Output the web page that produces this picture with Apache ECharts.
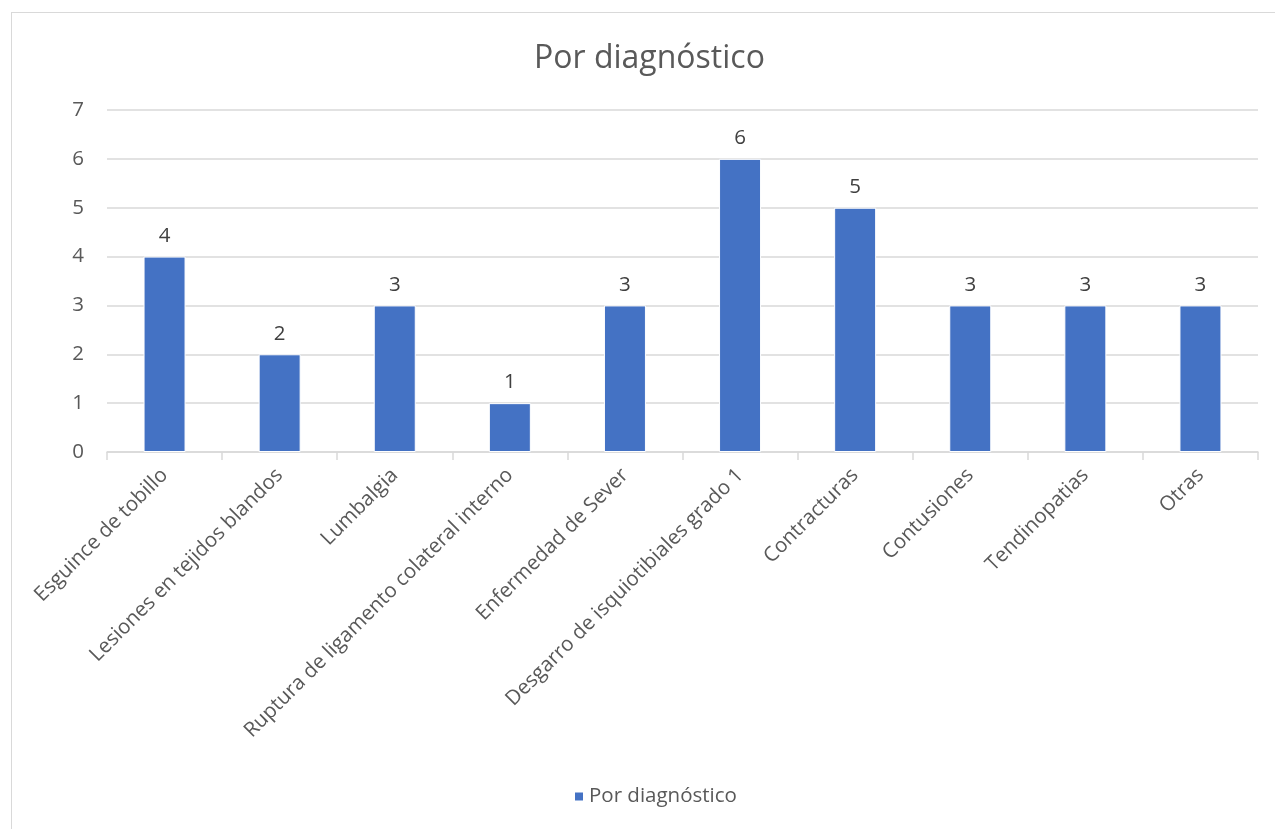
<!DOCTYPE html>
<html>
<head>
<meta charset="utf-8">
<script src="https://cdn.jsdelivr.net/npm/echarts@6/dist/echarts.min.js"></script>
<style>
  html, body { margin: 0; padding: 0; background: #fff; }
  #frame { position: absolute; left: 11px; top: 12px; width: 1300px; height: 900px; border: 1px solid #d9d9d9; }
  #chart { position: absolute; left: 0; top: 0; width: 1275px; height: 829px; }
</style>
</head>
<body>
<div id="frame"></div>
<div id="chart"></div>
<script>
const categories = [
  "Esguince de tobillo",
  "Lesiones en tejidos blandos",
  "Lumbalgia",
  "Ruptura de ligamento colateral interno",
  "Enfermedad de Sever",
  "Desgarro de isquiotibiales grado 1",
  "Contracturas",
  "Contusiones",
  "Tendinopatias",
  "Otras"
];
const values = [4, 2, 3, 1, 3, 6, 5, 3, 3, 3];
const seriesName = "Por diagnóstico";

const chart = echarts.init(document.getElementById("chart"));
const font = "'Open Sans', sans-serif";

chart.setOption({
  animation: false,
  title: {
    text: seriesName,
    left: 529,
    top: 38,
    textStyle: { fontFamily: font, fontSize: 32, fontWeight: "normal", color: "#595959" }
  },
  legend: {
    bottom: 17,
    left: 568,
    itemWidth: 10,
    itemHeight: 10,
    itemGap: 8,
    icon: "rect",
    textStyle: { fontFamily: font, fontSize: 20.5, color: "#595959" },
    data: [seriesName]
  },
  grid: { left: 107, right: 17, top: 110, bottom: 377, containLabel: false },
  xAxis: {
    type: "category",
    data: categories,
    axisLine: { lineStyle: { color: "#d9d9d9", width: 1.5 } },
    axisTick: { show: true, length: 8, lineStyle: { color: "#d9d9d9", width: 1.5 } },
    axisLabel: { rotate: 45, interval: 0, margin: 20, fontFamily: font, fontSize: 20.5, color: "#595959" }
  },
  yAxis: {
    type: "value",
    min: 0,
    max: 7,
    interval: 1,
    axisLine: { show: false },
    axisTick: { show: false },
    splitLine: { lineStyle: { color: "#d9d9d9", width: 1.5 } },
    axisLabel: { margin: 23, fontFamily: font, fontSize: 20.5, color: "#595959" }
  },
  series: [{
    name: seriesName,
    type: "bar",
    data: values,
    barWidth: 42,
    itemStyle: { color: "#4472c4", borderColor: "#ffffff", borderWidth: 1 },
    label: { show: true, position: "top", distance: 10, fontFamily: font, fontSize: 20.5, color: "#404040" }
  }]
});
</script>
</body>
</html>
